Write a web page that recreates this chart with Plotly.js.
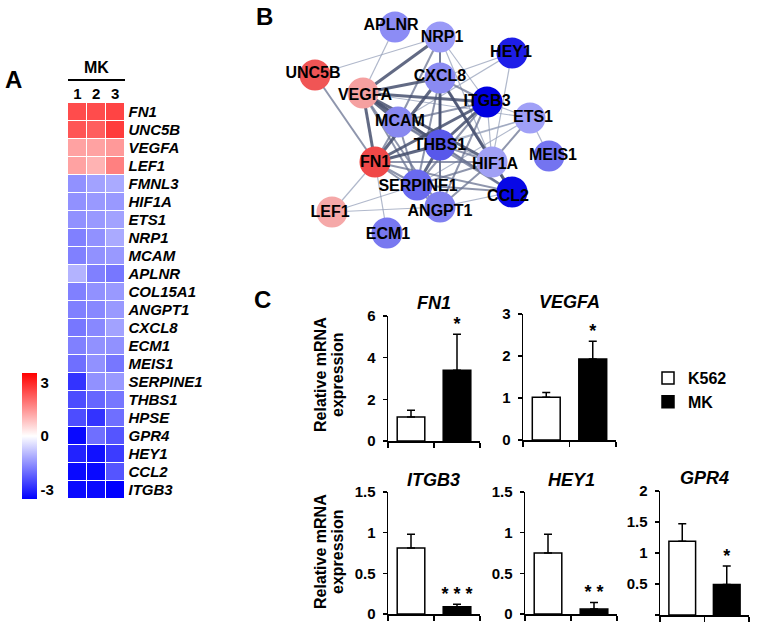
<!DOCTYPE html>
<html><head><meta charset="utf-8">
<script src="https://cdn.plot.ly/plotly-3.0.1.min.js"></script>
<style>html,body{margin:0;padding:0;background:#fff}#chart{width:759px;height:623px}</style>
</head><body><div id="chart"></div>
<script>
// ---------------- DATA ----------------
// Panel A: heatmap (z-scores, MK replicates 1-3)
const genes = ['FN1','UNC5B','VEGFA','LEF1','FMNL3','HIF1A','ETS1','NRP1','MCAM','APLNR','COL15A1','ANGPT1','CXCL8','ECM1','MEIS1','SERPINE1','THBS1','HPSE','GPR4','HEY1','CCL2','ITGB3'];
const samples = ['1','2','3'];
const zScores = [
  [2.1, 2.1, 2.2],
  [2.0, 1.9, 2.3],
  [1.1, 1.1, 1.2],
  [1.1, 0.9, 1.5],
  [-1.3, -1.1, -1.0],
  [-1.3, -1.2, -1.2],
  [-1.3, -1.2, -1.1],
  [-1.5, -1.3, -1.0],
  [-1.5, -1.3, -1.2],
  [-0.9, -1.5, -1.6],
  [-1.5, -1.3, -1.2],
  [-1.5, -1.4, -1.2],
  [-1.6, -1.4, -1.1],
  [-1.5, -1.3, -1.3],
  [-1.7, -1.3, -1.6],
  [-2.4, -1.3, -1.2],
  [-2.1, -1.8, -1.6],
  [-2.1, -2.4, -1.7],
  [-2.9, -1.7, -2.0],
  [-2.6, -2.8, -2.3],
  [-2.9, -2.9, -2.0],
  [-2.9, -2.9, -3.0]
];

// Panel B: interaction network
const netNodes = ['APLNR','NRP1','HEY1','UNC5B','CXCL8','VEGFA','ITGB3','ETS1','MCAM','THBS1','MEIS1','HIF1A','FN1','SERPINE1','CCL2','ANGPT1','LEF1','ECM1'];
const edgesStrong = [['VEGFA','FN1'],['VEGFA','ITGB3'],['VEGFA','CXCL8'],['VEGFA','NRP1'],['VEGFA','THBS1'],['VEGFA','HIF1A'],['FN1','ITGB3'],['FN1','THBS1'],['CXCL8','CCL2'],['THBS1','ITGB3'],['CXCL8','THBS1'],['VEGFA','MCAM'],['SERPINE1','THBS1'],['FN1','CXCL8']];
const edgesMedium = [['UNC5B','FN1'],['NRP1','CXCL8'],['NRP1','THBS1'],['NRP1','MCAM'],['CXCL8','SERPINE1'],['CXCL8','HIF1A'],['CXCL8','ANGPT1'],['CXCL8','ITGB3'],['VEGFA','SERPINE1'],['VEGFA','CCL2'],['VEGFA','ANGPT1'],['ITGB3','SERPINE1'],['ITGB3','MCAM'],['ITGB3','ANGPT1'],['MCAM','FN1'],['MCAM','THBS1'],['MCAM','SERPINE1'],['MCAM','CCL2'],['THBS1','HIF1A'],['THBS1','CCL2'],['THBS1','ANGPT1'],['HIF1A','FN1'],['HIF1A','SERPINE1'],['HIF1A','CCL2'],['FN1','SERPINE1'],['FN1','ANGPT1'],['FN1','CCL2'],['SERPINE1','CCL2'],['SERPINE1','ANGPT1'],['HIF1A','ANGPT1'],['ETS1','HIF1A']];
const edgesWeak = [['APLNR','VEGFA'],['UNC5B','NRP1'],['HEY1','CXCL8'],['HEY1','HIF1A'],['HEY1','MCAM'],['ETS1','MEIS1'],['ETS1','ITGB3'],['ETS1','FN1'],['ETS1','SERPINE1'],['ETS1','THBS1'],['ETS1','VEGFA'],['NRP1','HIF1A'],['LEF1','FN1'],['LEF1','SERPINE1'],['LEF1','ANGPT1'],['ANGPT1','CCL2'],['ECM1','FN1'],['NRP1','ITGB3'],['MCAM','HIF1A'],['ITGB3','HIF1A']];

// Panel C: qPCR
const groups = ['K562','MK'];
const barGenes = ['FN1','VEGFA','ITGB3','HEY1','GPR4'];
const k562Mean = [1.15, 1.02, 0.81, 0.75, 1.19];
const k562Err  = [0.32, 0.11, 0.17, 0.23, 0.28];
const mkMean   = [3.40, 1.93, 0.09, 0.06, 0.49];
const mkErr    = [1.72, 0.42, 0.03, 0.08, 0.30];
const sig      = ['*','*','* * *','* *','*'];
const yMax     = [6, 3, 1.5, 1.5, 2];
const yStep    = [2, 1, 0.5, 0.5, 0.5];

// ---------------- LAYOUT / STYLE ----------------
const W = 759, H = 623;
const FONT = "Arial, 'Liberation Sans', sans-serif";
const px = x => x / W;
const py = y => 1 - y / H;
const bold = (s, extra) => Object.assign({family: FONT, size: s, color: '#000', weight: 'bold'}, extra || {});

// network layout (pixel-space coordinates of the drawing)
const nodeX = [395,440,512,315,440,363,487,530,398,440,549,492,375,417,512,440,332,387];
const nodeY = [27,37,53,75,78,93,102,118,122,145,156,162,162,185,192,207,212,233];
const labelX = [391,442,511,313,440,365,487,533,400,440,553,495,375,418,508,440,330,388];
const labelY = [26,38,53,74,77,96,102,118,122,146,156,165,163,187,197,212,213,235];
const nodeColor = ['#8c8cf5','#9a9af7','#1e1ee8','#f05555','#8a8af2','#f5a0a0','#0000e0','#a0a0f7','#8888f0','#5858ea','#7474f0','#a0a0f5','#f04848','#6a6af0','#0808e6','#8080f0','#f5a8a8','#7878f0'];

const traces = [];

traces.push({
  type: 'heatmap', x: samples, y: genes, z: zScores,
  xaxis: 'x', yaxis: 'y', zmin: -3, zmax: 3,
  colorscale: [[0,'#0000ff'],[0.5,'#ffffff'],[1,'#ff0000']],
  xgap: 1, ygap: 1, hoverinfo: 'skip',
  colorbar: {
    x: px(22), xanchor: 'left', y: py(499), yanchor: 'bottom',
    thickness: 15, thicknessmode: 'pixels', len: 126, lenmode: 'pixels',
    tickvals: [-2.55, 0, 2.55], ticktext: ['-3','0','3'], ticks: '',
    outlinewidth: 0, tickfont: bold(15), xpad: 0, ypad: 0
  }
});

const idx = Object.fromEntries(netNodes.map((n, i) => [n, i]));
function edgeTrace(list, width, color) {
  const xs = [], ys = [];
  list.forEach(([a, b]) => { xs.push(nodeX[idx[a]], nodeX[idx[b]], null); ys.push(nodeY[idx[a]], nodeY[idx[b]], null); });
  return {type: 'scatter', mode: 'lines', x: xs, y: ys, xaxis: 'x7', yaxis: 'y7',
    line: {width: width, color: color}, hoverinfo: 'skip', showlegend: false};
}
traces.push(edgeTrace(edgesWeak, 1.2, 'rgba(150,160,185,0.75)'));
traces.push(edgeTrace(edgesMedium, 2, 'rgba(105,115,145,0.75)'));
traces.push(edgeTrace(edgesStrong, 3, 'rgba(70,80,110,0.85)'));
traces.push({type: 'scatter', mode: 'markers', x: nodeX, y: nodeY, xaxis: 'x7', yaxis: 'y7',
  marker: {size: 31, color: nodeColor, line: {width: 0}}, hoverinfo: 'skip', showlegend: false});
traces.push({type: 'scatter', mode: 'text', x: labelX, y: labelY, text: netNodes, xaxis: 'x7', yaxis: 'y7',
  textposition: 'middle center', textfont: bold(16), hoverinfo: 'skip', showlegend: false, cliponaxis: false});

// bar charts
const layout = {
  width: W, height: H, margin: {l: 0, r: 0, t: 0, b: 0},
  paper_bgcolor: '#fff', plot_bgcolor: 'rgba(0,0,0,0)',
  barmode: 'overlay', showlegend: true,
  font: {family: FONT, color: '#000'},
  xaxis: {domain: [px(68), px(124.5)], anchor: 'y', side: 'top', type: 'category', ticks: '',
    tickfont: bold(15), showgrid: false, zeroline: false, showline: false, fixedrange: true, ticklabelstandoff: 0},
  yaxis: {domain: [py(499), py(103)], anchor: 'x', side: 'right', type: 'category', autorange: 'reversed', ticks: '',
    tickfont: bold(15, {style: 'italic'}), showgrid: false, zeroline: false, showline: false, fixedrange: true, ticklabelstandoff: 3},
  xaxis7: {domain: [px(250), px(600)], anchor: 'y7', range: [250, 600], visible: false, fixedrange: true},
  yaxis7: {domain: [py(260), py(0)], anchor: 'x7', range: [260, 0], visible: false, fixedrange: true},
  legend: {x: px(648), y: py(361), xanchor: 'left', yanchor: 'top', font: bold(16),
    bgcolor: 'rgba(0,0,0,0)', tracegroupgap: 0, itemwidth: 30, traceorder: 'normal'},
  annotations: [], shapes: []
};

const barBoxes = [
  {x: [388, 480], y: [441, 316]},
  {x: [523, 616], y: [440, 314]},
  {x: [388, 480], y: [614, 492]},
  {x: [525, 617], y: [614, 492]},
  {x: [660, 749], y: [615, 491]}
];
const titleY = [303, 302, 480, 480, 478];

barGenes.forEach((g, i) => {
  const n = i + 2, xa = 'x' + n, ya = 'y' + n;
  const b = barBoxes[i];
  const errStyle = {type: 'data', symmetric: false, color: '#000', thickness: 1.5, width: 4};
  traces.push({type: 'bar', name: groups[0], x: [groups[0]], y: [k562Mean[i]], xaxis: xa, yaxis: ya, width: 0.6,
    marker: {color: '#fff', line: {color: '#000', width: 1.5}},
    error_y: Object.assign({array: [k562Err[i]], arrayminus: [0]}, errStyle),
    showlegend: i === 0, legendgroup: groups[0], hoverinfo: 'skip'});
  traces.push({type: 'bar', name: groups[1], x: [groups[1]], y: [mkMean[i]], xaxis: xa, yaxis: ya, width: 0.6,
    marker: {color: '#000', line: {color: '#000', width: 1.5}},
    error_y: Object.assign({array: [mkErr[i]], arrayminus: [0]}, errStyle),
    showlegend: i === 0, legendgroup: groups[1], hoverinfo: 'skip'});
  traces.push({type: 'scatter', mode: 'text', x: [groups[1]], y: [mkMean[i] + mkErr[i]], text: [sig[i]],
    xaxis: xa, yaxis: ya, textposition: 'top center', textfont: bold(18), cliponaxis: false,
    showlegend: false, hoverinfo: 'skip'});
  const tv = [];
  for (let v = 0; v <= yMax[i] + 1e-9; v += yStep[i]) tv.push(+v.toFixed(2));
  layout['xaxis' + n] = {domain: [px(b.x[0]), px(b.x[1])], anchor: ya, type: 'category', categoryorder: 'array',
    categoryarray: groups, range: [-0.5, 1.5], showline: true, linewidth: 1.5, linecolor: '#000',
    ticks: 'outside', tickson: 'boundaries', ticklen: 5, tickwidth: 1.5, tickcolor: '#000',
    showticklabels: false, showgrid: false, zeroline: false, fixedrange: true};
  layout['yaxis' + n] = {domain: [py(b.y[0]), py(b.y[1])], anchor: xa, range: [0, yMax[i]],
    tickvals: tv, ticktext: tv.map(String), showline: true, linewidth: 1.5, linecolor: '#000',
    ticks: 'outside', ticklen: 4, tickwidth: 1.5, tickcolor: '#000', tickfont: bold(15),
    showgrid: false, zeroline: false, fixedrange: true, ticklabelstandoff: 4};
  layout.annotations.push({xref: 'paper', yref: 'paper', x: px((b.x[0] + b.x[1]) / 2), y: py(titleY[i]),
    xanchor: 'center', yanchor: 'middle', text: g, showarrow: false, font: bold(18, {style: 'italic'})});
});

// y-axis titles for panel C
[[375], [552]].forEach(([cy]) => {
  layout.annotations.push({xref: 'paper', yref: 'paper', x: px(320), y: py(cy), xanchor: 'center', yanchor: 'middle',
    text: 'Relative mRNA', textangle: -90, showarrow: false, font: bold(16)});
  layout.annotations.push({xref: 'paper', yref: 'paper', x: px(337), y: py(cy), xanchor: 'center', yanchor: 'middle',
    text: 'expression', textangle: -90, showarrow: false, font: bold(16)});
});

// heatmap header and panel letters
layout.annotations.push({xref: 'paper', yref: 'paper', x: px(96), y: py(68), xanchor: 'center', yanchor: 'middle',
  text: 'MK', showarrow: false, font: bold(16)});
layout.shapes.push({type: 'line', xref: 'paper', yref: 'paper', x0: px(68), x1: px(125), y0: py(80), y1: py(80),
  line: {color: '#000', width: 2}});
[['A', 13, 80], ['B', 264, 16], ['C', 262, 299]].forEach(([t, x, y]) => {
  layout.annotations.push({xref: 'paper', yref: 'paper', x: px(x), y: py(y), xanchor: 'center', yanchor: 'middle',
    text: t, showarrow: false, font: bold(24)});
});

Plotly.newPlot('chart', traces, layout, {staticPlot: true, displayModeBar: false});
</script></body></html>
